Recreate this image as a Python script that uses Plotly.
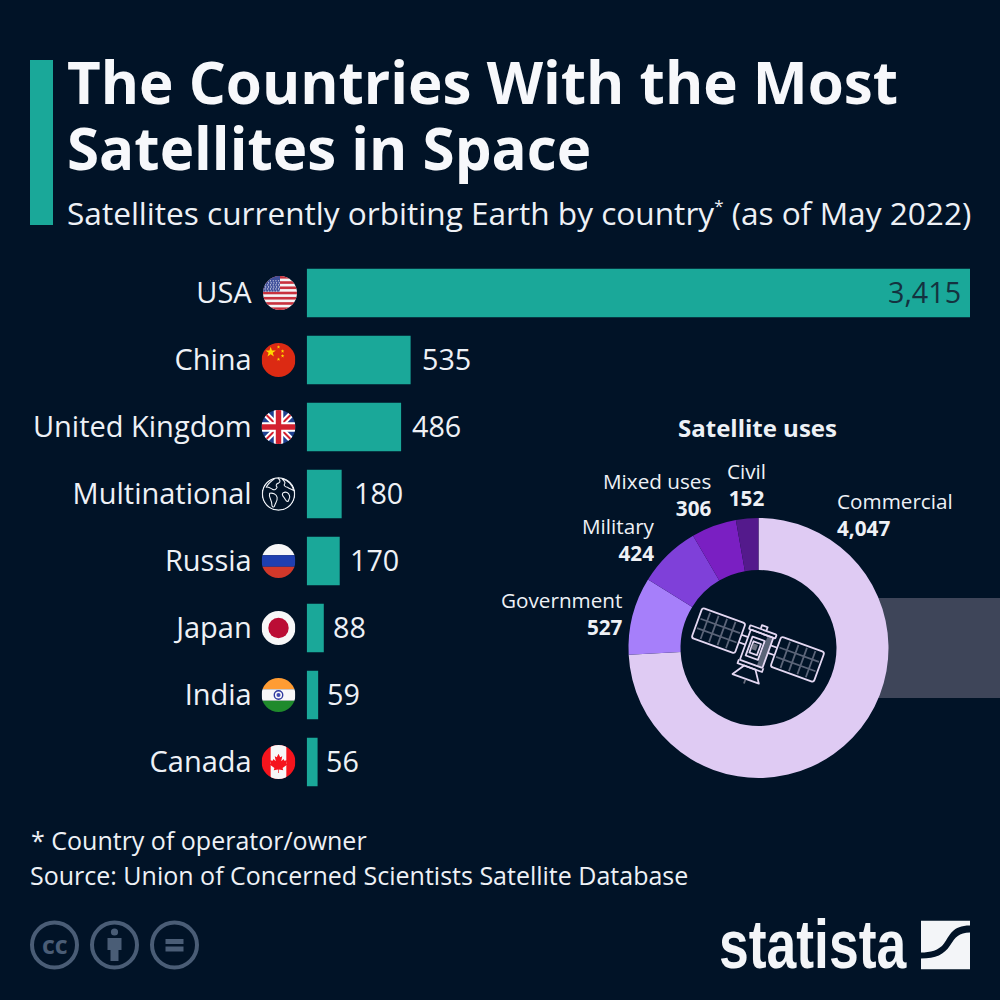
import base64
import math
import plotly.graph_objects as go

countries = ["USA", "China", "United Kingdom", "Multinational", "Russia", "Japan", "India", "Canada"]
satellites = [3415, 535, 486, 180, 170, 88, 59, 56]
uses = ["Commercial", "Government", "Military", "Mixed uses", "Civil"]
use_counts = [4047, 527, 424, 306, 152]
use_colors = ["#dfcbf3", "#a67ffa", "#7f40d9", "#7a1fc2", "#541a8c"]
label_gaps = [-8, 10, 10, 11, 9, 8, 8, 7]

BG = "#011327"
TEAL = "#1aa899"
TXT = "#eef1f6"
ICON = "#4a5d76"


def px(x):
    return x / 1000


def py(y):
    return 1 - y / 1000


def uri(svg):
    return "data:image/svg+xml;base64," + base64.b64encode(svg.encode()).decode()


def flag(inner):
    return uri('<svg xmlns="http://www.w3.org/2000/svg" width="200" height="200" viewBox="0 0 100 100">'
               '<defs><clipPath id="c"><circle cx="50" cy="50" r="50"/></clipPath></defs>'
               f'<g clip-path="url(#c)">{inner}</g></svg>')


def star(cx, cy, r, fill):
    pts = []
    for i in range(10):
        a = -math.pi / 2 + i * math.pi / 5
        rr = r if i % 2 == 0 else r * 0.4
        pts.append(f"{cx + rr * math.cos(a):.1f},{cy + rr * math.sin(a):.1f}")
    return f'<polygon points="{" ".join(pts)}" fill="{fill}"/>'


usa = '<rect width="100" height="100" fill="#f4f4f6"/>'
for i in range(0, 13, 2):
    usa += f'<rect y="{i * 100 / 13:.2f}" width="100" height="{100 / 13:.2f}" fill="#c8313e"/>'
usa += '<rect width="50" height="46" fill="#3f4f9b"/>'
for r_ in range(6):
    for c_ in range(6):
        usa += f'<circle cx="{6 + c_ * 8 + (r_ % 2) * 2}" cy="{14 + r_ * 6}" r="1.7" fill="#fff"/>'

china = '<rect width="100" height="100" fill="#dc2a13"/>' + star(27, 27, 16, "#ffd900")
for sx, sy in [(50, 12), (62, 24), (62, 38), (50, 48)]:
    china += star(sx, sy, 5.5, "#ffd900")

uk = ('<rect width="100" height="100" fill="#1f3f8f"/>'
      '<path d="M0 0L100 100M100 0L0 100" stroke="#fff" stroke-width="18"/>'
      '<path d="M0 0L100 100M100 0L0 100" stroke="#d3202f" stroke-width="6"/>'
      '<path d="M50 0V100M0 50H100" stroke="#fff" stroke-width="28"/>'
      '<path d="M50 0V100M0 50H100" stroke="#d3202f" stroke-width="16"/>')

globe = ('<circle cx="50" cy="50" r="47.5" fill="none" stroke="#eef1f6" stroke-width="4"/>'
         '<g fill="none" stroke="#eef1f6" stroke-width="3.2" stroke-linejoin="round">'
         '<path d="M38 5C28 12 18 22 14 30C20 28 27 33 32 36C38 40 44 36 46 30C41 26 43 20 50 18C58 14 54 8 48 3"/>'
         '<path d="M60 5C66 12 72 14 68 20C64 24 70 30 76 30C82 36 90 36 95 40C92 25 78 8 60 5Z"/>'
         '<path d="M24 48C32 46 44 50 46 60C48 70 40 76 38 86C34 92 30 86 30 78C30 68 20 58 24 48Z"/>'
         '<path d="M64 46C72 42 80 46 82 54C86 60 80 66 78 72C72 74 70 64 66 60C62 56 60 50 64 46Z"/>'
         '</g>')

russia = ('<rect width="100" height="33" fill="#f7f7f8"/>'
          '<rect y="33" width="100" height="34" fill="#1f3fb0"/>'
          '<rect y="67" width="100" height="33" fill="#d1382a"/>')

japan = '<rect width="100" height="100" fill="#f7f7f8"/><circle cx="50" cy="50" r="30" fill="#bb0d35"/>'

india = ('<rect width="100" height="33" fill="#ff9c33"/>'
         '<rect y="33" width="100" height="34" fill="#f7f7f8"/>'
         '<rect y="67" width="100" height="33" fill="#1f8a2c"/>'
         '<circle cx="50" cy="50" r="12.5" fill="none" stroke="#2f3a9e" stroke-width="4"/>'
         '<circle cx="50" cy="50" r="6" fill="#3f4ab0"/>')

canada = ('<rect width="100" height="100" fill="#f5141d"/>'
          '<rect x="27" width="46" height="100" fill="#f7f7f8"/>'
          '<path d="M50 26L55 36L61 33L58 48L65 41L67 46L76 45L72 54L76 57L62 68L64 74L51 72V82H49V72L36 74L38 68L24 57L28 54L24 45L33 46L35 41L42 48L39 33L45 36Z" fill="#f5141d"/>')

flags = [usa, china, uk, globe, russia, japan, india, canada]
flag_x = [280, 278.5, 278.5, 278.5, 278.5, 278.5, 278.5, 278.5]
row_y = [293, 360, 427, 494, 561, 628, 695, 762]

satellite = uri(
    '<svg xmlns="http://www.w3.org/2000/svg" width="640" height="440" viewBox="0 0 160 110">'
    '<g transform="rotate(20 80 52)" fill="none" stroke="#e4d8f2" stroke-width="1.8" stroke-linejoin="round">'
    '<g stroke="#5b6478" stroke-width="1.8">'
    '<path d="M24 38V66M33 38V66M42 38V66M51 38V66M17 47H59M17 57H59"/>'
    '<path d="M109 38V66M118 38V66M127 38V66M136 38V66M101 47H143M101 57H143"/></g>'
    '<rect x="15" y="36" width="46" height="32" rx="2.5"/>'
    '<rect x="99" y="36" width="46" height="32" rx="2.5"/>'
    '<path d="M61 48H68M61 56H68M92 48H99M92 56H99"/>'
    '<rect x="86" y="41" width="6" height="31" fill="#5b6478" stroke="none"/>'
    '<rect x="68" y="40" width="24" height="32" rx="1"/>'
    '<rect x="66" y="36" width="28" height="4" rx="1"/>'
    '<path d="M77 36V32H83V36"/>'
    '<rect x="72" y="46" width="13" height="20"/>'
    '<rect x="74.5" y="50" width="8" height="12"/>'
    '<rect x="75" y="52" width="5" height="6" fill="#6b7080" stroke="none"/>'
    '<path d="M67 72V76H93V72"/>'
    '<path d="M74 76L66 88H94L86 76Z"/>'
    '<path d="M80 89V93" stroke="#6b7080"/>'
    '</g></svg>')

logo_mark = uri(
    '<svg xmlns="http://www.w3.org/2000/svg" width="200" height="200" viewBox="0 0 49 49">'
    '<path fill="#f3f5f8" d="M0 0H49V5C31 5 29 15 23 23C18 30 9 32 0 32Z"/>'
    '<path fill="#f3f5f8" d="M49 12V49H0V38C15 38 23 34 29 25C34 17 38 12 49 12Z"/></svg>')

cc_icons = uri(
    '<svg xmlns="http://www.w3.org/2000/svg" width="680" height="200" viewBox="0 0 170 50">'
    f'<g fill="none" stroke="{ICON}" stroke-width="4"><circle cx="25" cy="25" r="22.5"/>'
    '<circle cx="85" cy="25" r="22.5"/><circle cx="145" cy="25" r="22.5"/></g>'
    f'<g fill="{ICON}"><circle cx="85" cy="12" r="3.6"/>'
    '<path d="M78 18H92V30H89V41H81V30H78Z"/>'
    '<rect x="136" y="19" width="18" height="5"/><rect x="136" y="26.5" width="18" height="5"/></g></svg>')

images = []
for src, cx, cy in zip(flags, flag_x, row_y):
    images.append(dict(source=flag(src), xref="paper", yref="paper", x=px(cx - 17), y=py(cy - 17),
                       sizex=0.034, sizey=0.034, xanchor="left", yanchor="top", sizing="stretch", layer="above"))
images.append(dict(source=satellite, xref="paper", yref="paper", x=px(678), y=py(593), sizex=0.16, sizey=0.11,
                   xanchor="left", yanchor="top", sizing="stretch", layer="above"))
images.append(dict(source=logo_mark, xref="paper", yref="paper", x=px(921), y=py(920.5), sizex=0.049, sizey=0.049,
                   xanchor="left", yanchor="top", sizing="stretch", layer="above"))
images.append(dict(source=cc_icons, xref="paper", yref="paper", x=px(29.5), y=py(920), sizex=0.17, sizey=0.05,
                   xanchor="left", yanchor="top", sizing="stretch", layer="above"))


def note(text, x, y, size, color=TXT, xanchor="left", yanchor="middle", align="left", family="Open Sans"):
    return dict(text=text, xref="paper", yref="paper", x=px(x), y=py(y), xanchor=xanchor, yanchor=yanchor,
                align=align, showarrow=False, borderpad=0, font=dict(family=family, size=size, color=color))


annotations = [
    note("<b>The Countries With the Most</b>", 66, 82, 58.3, "#f7f8fb"),
    note("<b>Satellites in Space</b>", 66, 147, 58.3, "#f7f8fb"),
    note("Satellites currently orbiting Earth by country<sup><span style='font-size:17px'>*</span></sup> (as of May 2022)",
         66, 213, 31.6),
    note("* Country of operator/owner", 29.5, 839.5, 25),
    note("Source: Union of Concerned Scientists Satellite Database", 29, 874.5, 25),
    note("<b>Satellite uses</b>", 757.5, 428, 24, xanchor="center", align="center"),
    note("<b>cc</b>", 54.5, 944, 25, ICON, xanchor="center", align="center"),
    note("<b>statista</b>", 718, 944.5, 69, "#f3f5f8", family="Liberation Sans"),
]

use_pos = [(836, 514.5, "left"), (624, 613, "right"), (656, 539, "right"), (712, 494, "right"), (746, 484, "center")]
for name, val, (ux, uy, anchor) in zip(uses, use_counts, use_pos):
    annotations.append(note(f"{name}<br><b>{val:,}</b>", ux, uy, 20.7, xanchor=anchor, align=anchor))

# Value labels, tied to the bar axis
for c, v, gap in zip(countries, satellites, label_gaps):
    inside = v > 1000
    annotations.append(dict(text=f"{v:,}", xref="x", yref="y", x=v, y=c, showarrow=False, borderpad=0,
                            xanchor="right" if inside else "left", xshift=gap, yshift=1.5,
                            font=dict(family="Open Sans", size=28.7, color="#14323f" if inside else TXT)))

shapes = [
    dict(type="rect", xref="paper", yref="paper", x0=px(30), x1=px(53), y0=py(225), y1=py(60),
         fillcolor=TEAL, line_width=0, layer="below"),
    dict(type="rect", xref="paper", yref="paper", x0=px(870), x1=1, y0=py(698), y1=py(598),
         fillcolor="#3e4559", line_width=0, layer="below"),
]

fig = go.Figure()
fig.add_trace(go.Bar(x=satellites, y=countries, orientation="h", marker=dict(color=TEAL, line_width=0),
                     hoverinfo="skip", showlegend=False, cliponaxis=False, width=0.724))
fig.add_trace(go.Pie(labels=uses, values=use_counts, hole=0.6, sort=False, direction="clockwise", rotation=0,
                     textinfo="none", hoverinfo="skip", showlegend=False,
                     marker=dict(colors=use_colors, line=dict(width=0)),
                     domain=dict(x=[px(628.5), px(888.5)], y=[py(778), py(518)])))

fig.update_layout(
    width=1000, height=1000, margin=dict(l=0, r=0, t=0, b=0), autosize=False,
    paper_bgcolor=BG, plot_bgcolor="rgba(0,0,0,0)",
    xaxis=dict(domain=[px(306.7), px(970)], range=[0, 3415], visible=False, fixedrange=True),
    yaxis=dict(domain=[py(795.5), py(259.5)], autorange="reversed", type="category", categoryorder="array",
               categoryarray=countries, showgrid=False, zeroline=False, showline=False, ticks="",
               ticklabelstandoff=54, fixedrange=True,
               tickfont=dict(family="Open Sans", size=29, color=TXT)),
    annotations=annotations, shapes=shapes, images=images,
)

# The wordmark is a condensed face; none is installed, so the real text is narrowed in place.
post = """
document.body.style.margin='0';document.body.style.background='#011327';
function narrowLogo(){
  document.querySelectorAll('text.annotation-text').forEach(function(t){
    if(t.textContent==='statista'){
      t.style.transformBox='fill-box';t.style.transformOrigin='left center';t.style.transform='scaleX(0.775)';
    }
  });
}
narrowLogo();setTimeout(narrowLogo,100);
"""
fig.write_html("out.html", post_script=post, config=dict(displayModeBar=False))
